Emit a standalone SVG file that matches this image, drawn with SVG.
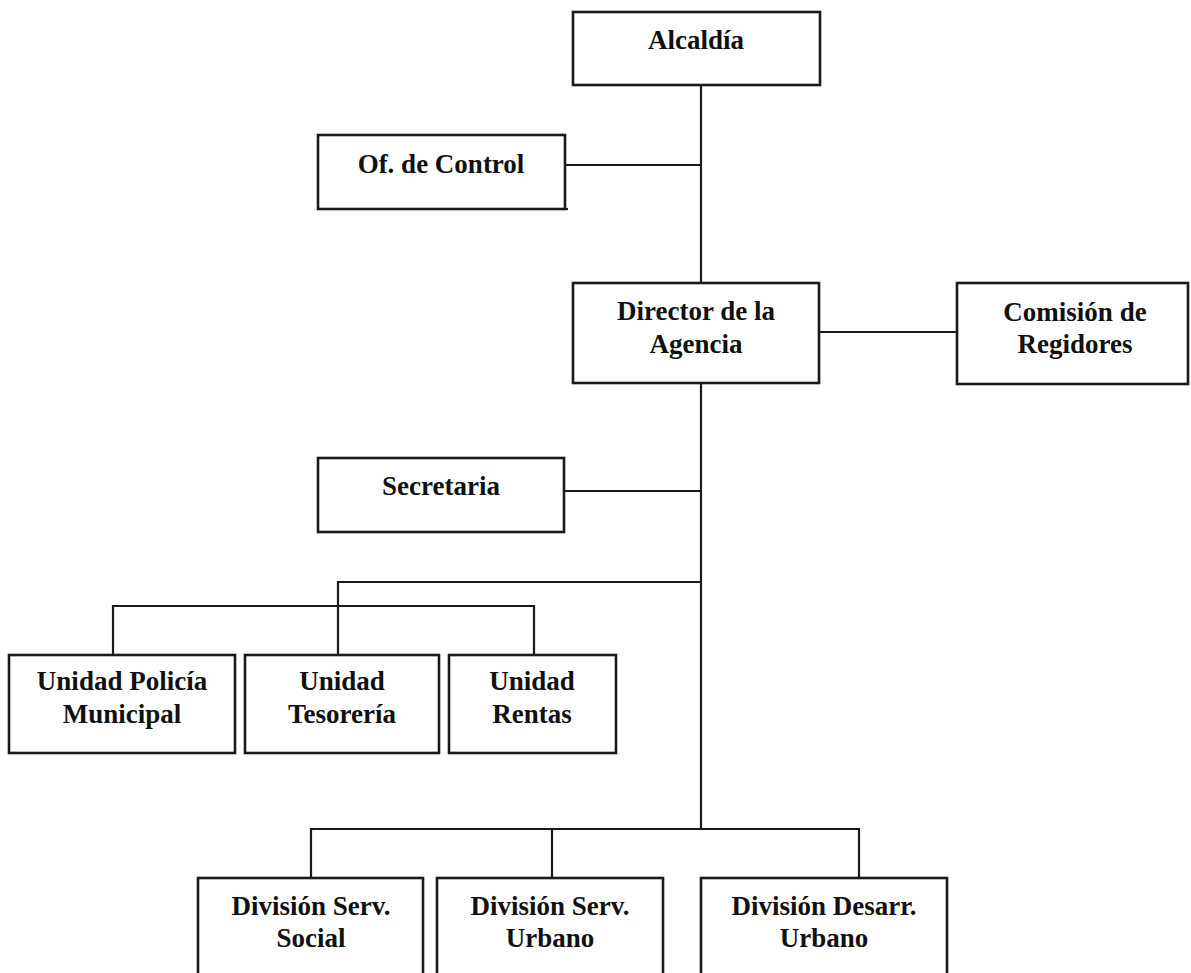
<svg xmlns="http://www.w3.org/2000/svg" width="1191" height="973" viewBox="0 0 1191 973">
<style>
.box{fill:#fff;stroke:#1a1a1a;stroke-width:2.6}
.ln{fill:none;stroke:#1a1a1a;stroke-width:2.2}
text{font-family:"Liberation Serif","Times New Roman",serif;font-weight:bold;font-size:27px;fill:#111;text-anchor:middle}
</style>
<rect width="1191" height="973" fill="#fff"/>
<g id="connectors">
<path class="ln" d="M701 85V829"/>
<path class="ln" d="M565 165H701"/>
<path class="ln" d="M819 332H957"/>
<path class="ln" d="M564 491H701"/>
<path class="ln" d="M701 582H338V655"/>
<path class="ln" d="M113 655V606H534V655"/>
<path class="ln" d="M311 878V829H859V878"/>
<path class="ln" d="M552 829V878"/>
</g>
<g id="alcaldia"><rect class="box" x="573" y="12" width="247" height="73"/><text x="696" y="49">Alcaldía</text></g>
<g id="of-control"><rect class="box" x="318" y="135" width="247" height="74"/><path class="ln" d="M565 209H568"/><text x="441" y="173">Of. de Control</text></g>
<g id="director"><rect class="box" x="573" y="283" width="246" height="100"/><text x="696" y="320">Director de la</text><text x="696" y="353">Agencia</text></g>
<g id="comision"><rect class="box" x="957" y="283" width="231" height="101"/><text x="1075" y="321">Comisión de</text><text x="1075" y="353">Regidores</text></g>
<g id="secretaria"><rect class="box" x="318" y="458" width="246" height="74"/><text x="441" y="495">Secretaria</text></g>
<g id="policia"><rect class="box" x="9" y="655" width="226" height="98"/><text x="122" y="690">Unidad Policía</text><text x="122" y="723">Municipal</text></g>
<g id="tesoreria"><rect class="box" x="245" y="655" width="194" height="98"/><text x="342" y="690">Unidad</text><text x="342" y="723">Tesorería</text></g>
<g id="rentas"><rect class="box" x="449" y="655" width="167" height="98"/><text x="532" y="690">Unidad</text><text x="532" y="723">Rentas</text></g>
<g id="div-social"><rect class="box" x="198" y="878" width="225" height="110"/><text x="311" y="915">División Serv.</text><text x="311" y="947">Social</text></g>
<g id="div-urbano"><rect class="box" x="437" y="878" width="226" height="110"/><text x="550" y="915">División Serv.</text><text x="550" y="947">Urbano</text></g>
<g id="div-desarr"><rect class="box" x="701" y="878" width="246" height="110"/><text x="824" y="915">División Desarr.</text><text x="824" y="947">Urbano</text></g>
</svg>
